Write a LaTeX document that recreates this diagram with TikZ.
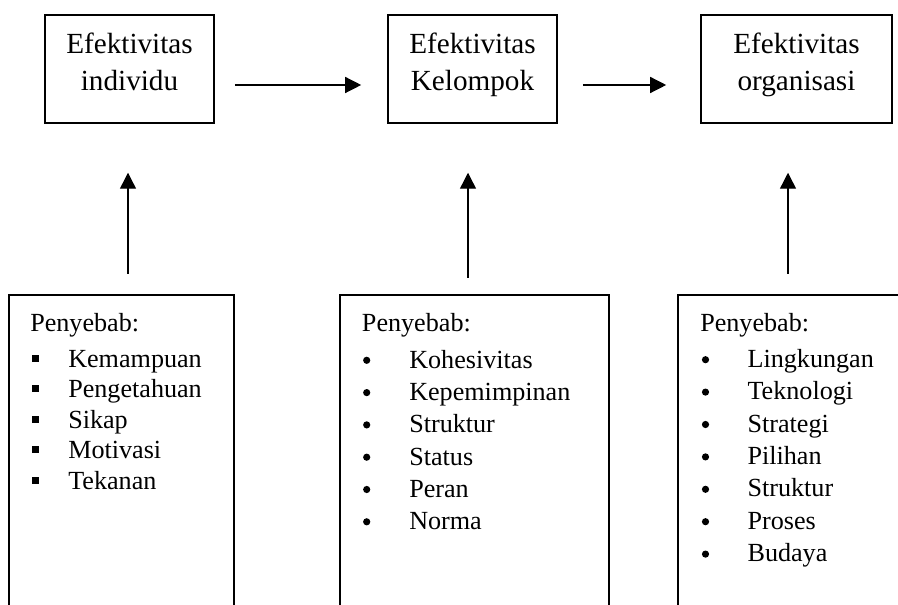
\documentclass[tikz,border=0pt]{standalone}
\usepackage{fontspec}
\setmainfont{Liberation Serif}
\usetikzlibrary{arrows.meta}

\tikzset{
  topbox/.style={draw, line width=1.2pt, inner sep=0pt, align=center,
    font=\fontsize{21.9pt}{28pt}\selectfont},
  frame/.style={line width=1.2pt},
  flow/.style={line width=1pt, -{Triangle[length=12pt,width=12pt]}},
  causetxt/.style={anchor=base west, inner sep=0pt,
    font=\fontsize{19.6pt}{24pt}\selectfont},
  sqbullet/.style={fill, inner sep=0pt, minimum size=5.25pt},
  dotbullet/.style={circle, fill, inner sep=0pt, minimum size=5.4pt}
}
\newcommand{\boxlines}[2]{\rule{0pt}{28.7pt}#1\\#2\rule[-24.2pt]{0pt}{24.2pt}}

\begin{document}
\begin{tikzpicture}[x=0.75pt,y=-0.75pt]
    \useasboundingbox (0,0) rectangle (898,605);
    % efektivitas
    \node[topbox, minimum width=126.75pt] (ind) at (129.5,69) {\boxlines{Efektivitas}{individu}};
    \node[topbox, minimum width=126.75pt] (kel) at (472.5,69) {\boxlines{Efektivitas}{Kelompok}};
    \node[topbox, minimum width=143.25pt] (org) at (796.5,69) {\boxlines{Efektivitas}{organisasi}};
    \draw[flow, shorten <=15pt, shorten >=19.5pt] ([yshift=-12pt]ind.east) -- ([yshift=-12pt]kel.west);
    \draw[flow, shorten <=18.75pt, shorten >=25.5pt] ([yshift=-12pt]kel.east) -- ([yshift=-12pt]org.west);
    % open boxes below
    \draw[frame] (9,605) -- (9,295) -- (234,295) -- (234,605);
    \draw[frame] (340,605) -- (340,295) -- (609,295) -- (609,605);
    \draw[frame] (678,605) -- (678,295) -- (898,295);
    \coordinate (f1) at (128,274);
    \coordinate (f2) at (468,278);
    \coordinate (f3) at (788,274);
    \draw[flow, shorten >=36.75pt] (f1) -- (f1 |- ind.south);
    \draw[flow, shorten >=36.75pt] (f2) -- (f2 |- kel.south);
    \draw[flow, shorten >=36.75pt] (f3) -- (f3 |- org.south);
    % penyebab
    \node[causetxt] (pa) at (30,331.7) {Penyebab:};
    \foreach \cause [count=\n] in {Kemampuan,Pengetahuan,Sikap,Motivasi,Tekanan}{
        \node[causetxt] (a\n) at (68,{367.3+(\n-1)*30.5}) {\cause};
        \node[sqbullet] (sa\n) at (35.3,{358.3+(\n-1)*30.5}) {};
    }
    \node[causetxt] (pb) at (361.7,331.7) {Penyebab:};
    \foreach \cause [count=\n] in {Kohesivitas,Kepemimpinan,Struktur,Status,Peran,Norma}{
        \node[causetxt] (b\n) at (409,{368.3+(\n-1)*32.3}) {\cause};
        \node[dotbullet] (db\n) at (366.7,{360.3+(\n-1)*32.3}) {};
    }
    \node[causetxt] (pc) at (700,331.7) {Penyebab:};
    \foreach \cause [count=\n] in {Lingkungan,Teknologi,Strategi,Pilihan,Struktur,Proses,Budaya}{
        \node[causetxt] (c\n) at (747.3,{367.3+(\n-1)*32.4}) {\cause};
        \node[dotbullet] (dc\n) at (705.5,{359.7+(\n-1)*32.4}) {};
    }
\end{tikzpicture}
\end{document}
